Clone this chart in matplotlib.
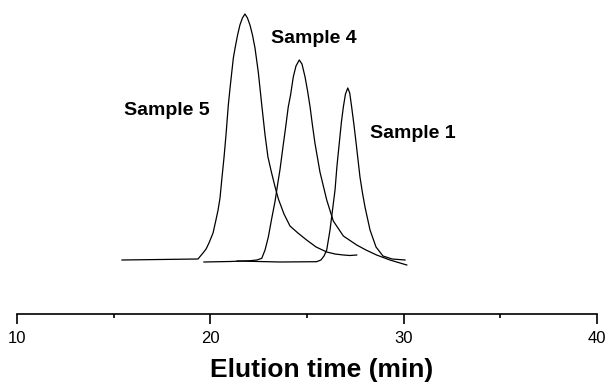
import numpy as np
import matplotlib
matplotlib.use("Agg")
import matplotlib.pyplot as plt
from matplotlib.ticker import MultipleLocator

plt.rcParams['font.family'] = ['Liberation Sans', 'DejaVu Sans']

# elution time (min) and detector signal (arb. units)
time_s5 = [15.43, 17.40, 19.36, 19.62, 19.78, 19.93, 20.14, 20.29, 20.40, 20.50,
           20.60, 20.71, 20.81, 20.93, 21.02, 21.11, 21.19, 21.28, 21.41, 21.53,
           21.66, 21.79, 21.92, 22.05, 22.18, 22.31, 22.48, 22.66, 22.83, 22.98,
           23.17, 23.35, 23.52, 23.81, 24.12, 24.53, 24.98, 25.47, 26.02, 26.45,
           26.88, 27.22, 27.57]
sig_s5 = [2, 2.5, 3, 9, 13, 19, 29, 42, 52, 64,
          84, 105, 127, 157, 174, 190, 204, 214, 227, 237,
          244, 248, 244, 237, 227, 214, 190, 157, 127, 105,
          89, 75, 63, 48, 36, 29, 22, 15, 10, 8,
          7, 6.5, 7]

time_s4 = [19.67, 21.02, 22.05, 22.41, 22.66, 22.83, 23.00, 23.16, 23.35, 23.50,
           23.60, 23.77, 23.89, 24.03, 24.15, 24.29, 24.43, 24.60, 24.74, 24.90,
           25.03, 25.16, 25.28, 25.41, 25.67, 26.02, 26.36, 26.88, 27.57, 28.05,
           28.60, 29.29, 30.16]
sig_s4 = [0, 0.5, 1.3, 2, 3.7, 12, 25, 42, 61, 80,
          92, 117, 134, 155, 167, 185, 196, 202, 198, 185,
          171, 155, 137, 119, 90, 62, 41, 26, 17, 12,
          7, 2, -3]

time_s1 = [21.38, 23.60, 25.50, 25.72, 25.88, 26.02, 26.19, 26.32, 26.45, 26.55,
           26.67, 26.78, 26.88, 26.99, 27.11, 27.21, 27.31, 27.43, 27.54, 27.64,
           27.74, 27.87, 28.00, 28.26, 28.57, 28.93, 29.40, 30.07]
sig_s1 = [1, 0, 0.3, 2, 6, 12, 32, 52, 72, 96,
          119, 140, 155, 168, 174, 169, 155, 137, 119, 102,
          85, 69, 55, 32, 15, 6, 3, 2]

labels = ["Sample 5", "Sample 4", "Sample 1"]
label_time = [17.76, 25.36, 30.48]
label_sig = [147, 219, 124]

fig = plt.figure(figsize=(6.09, 3.85), dpi=100)
ax = fig.add_axes([17 / 609, 1 - 314 / 385, 580 / 609, 314 / 385])

for t, s in [(time_s5, sig_s5), (time_s4, sig_s4), (time_s1, sig_s1)]:
    ax.plot(t, s, color="black", lw=0.9)

for lab, t, s in zip(labels, label_time, label_sig):
    ax.text(t, s, lab, ha="center", va="baseline", fontsize=14, fontweight="bold")

ax.set_xlim(10, 40)
ax.set_ylim(-52, 262)

for side in ["left", "right", "top"]:
    ax.spines[side].set_visible(False)
ax.spines["bottom"].set_linewidth(1.2)
ax.set_yticks([])

ax.xaxis.set_major_locator(MultipleLocator(10))
ax.xaxis.set_minor_locator(MultipleLocator(5))
ax.tick_params(axis="x", which="major", direction="out", length=7, width=1.2, labelsize=12, pad=5)
ax.tick_params(axis="x", which="minor", direction="out", length=3, width=1.2)

ax.set_xlabel("Elution time (min)", fontsize=19, fontweight="bold")
ax.xaxis.set_label_coords(0.526, -0.14)

fig.savefig("out.png", dpi=100)
